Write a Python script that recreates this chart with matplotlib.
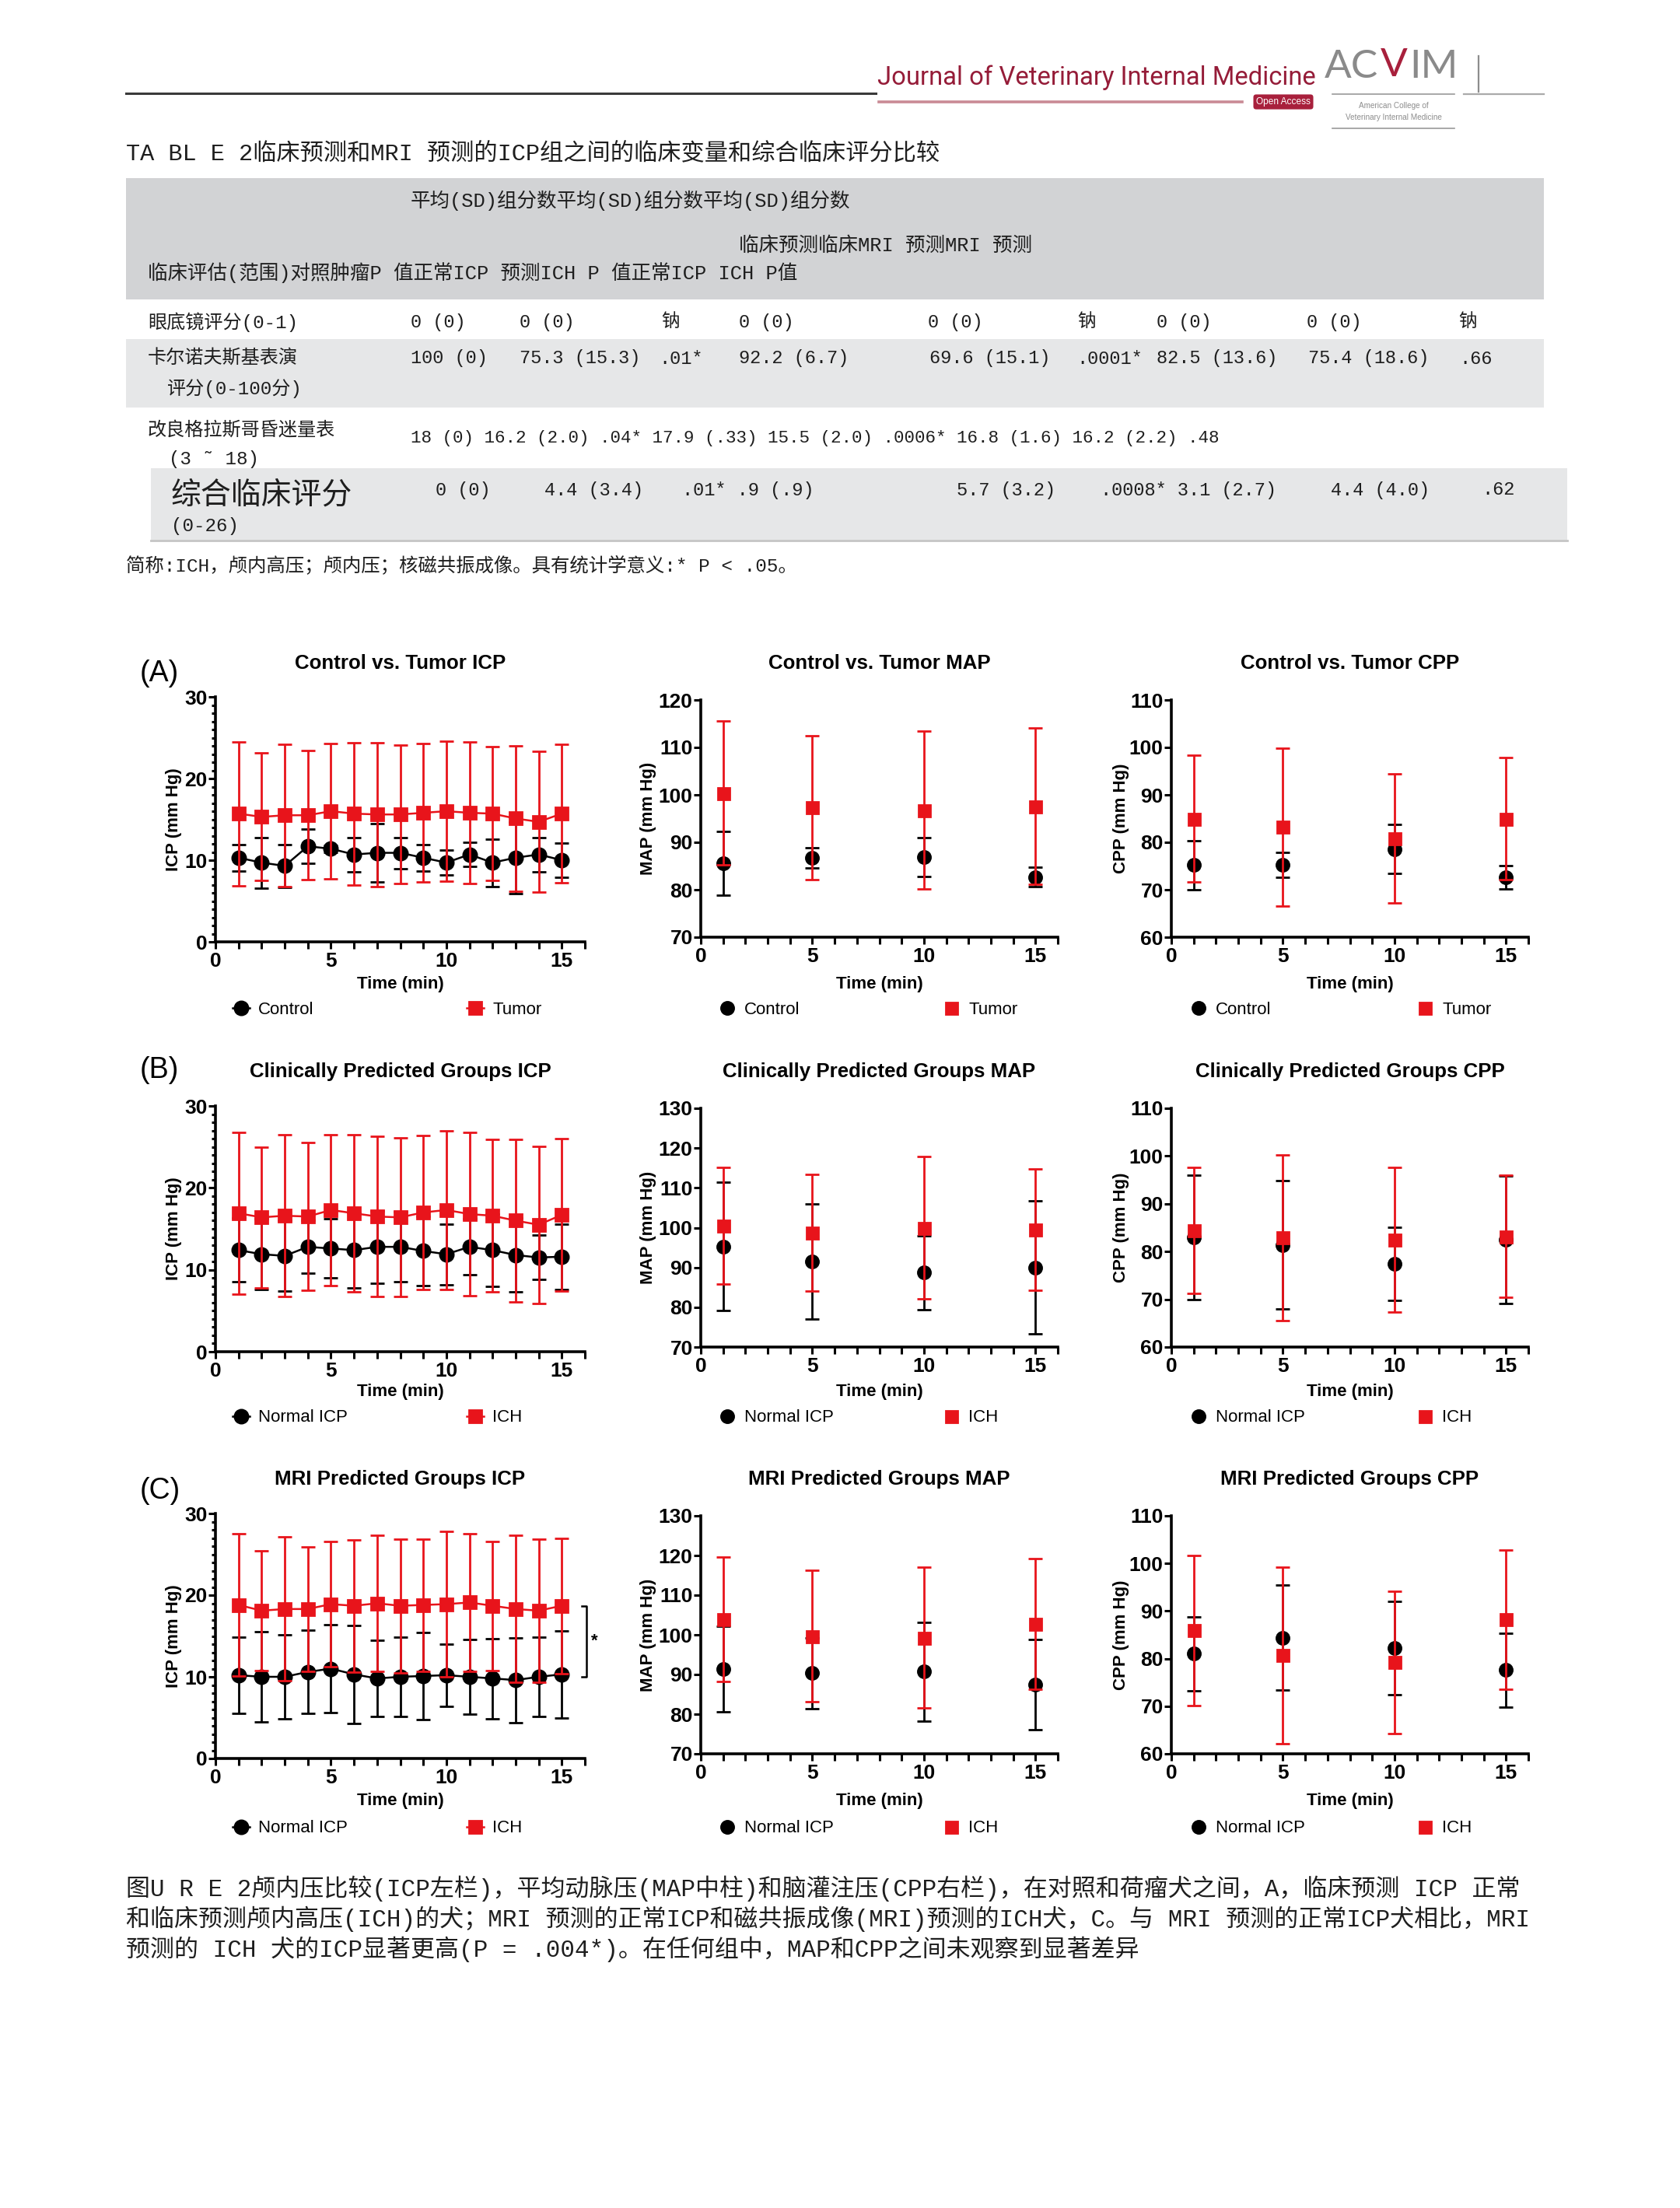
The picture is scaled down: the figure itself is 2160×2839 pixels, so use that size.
import matplotlib
matplotlib.use("Agg")
import matplotlib.pyplot as plt
from matplotlib.patches import Rectangle
from matplotlib.ticker import MultipleLocator

plt.rcParams['font.family'] = ['Liberation Sans', 'Noto Sans CJK SC']

# ---- data -------------------------------------------------------------
t_icp = list(range(1, 16))
t_bp = [1, 5, 10, 15]

# (A) control vs tumor
a_icp_ctrl = [10.3, 9.7, 9.3, 11.7, 11.4, 10.7, 10.9, 10.9, 10.3, 9.7, 10.7, 9.7, 10.3, 10.7, 10.0]
a_icp_ctrl_sd = [1.6, 3.1, 2.6, 2.1, 0.4, 2.1, 3.6, 1.9, 1.6, 1.5, 1.5, 2.9, 4.4, 2.1, 2.1]
a_icp_tum = [15.7, 15.3, 15.5, 15.5, 16.0, 15.7, 15.6, 15.6, 15.8, 16.0, 15.8, 15.7, 15.1, 14.7, 15.7]
a_icp_tum_sd = [8.8, 7.8, 8.7, 7.9, 8.3, 8.7, 8.8, 8.5, 8.5, 8.6, 8.7, 8.2, 8.9, 8.6, 8.5]
a_map_ctrl = [85.6, 86.7, 86.9, 82.7]
a_map_ctrl_sd = [6.7, 2.1, 4.1, 2.1]
a_map_tum = [100.4, 97.3, 96.8, 97.6]
a_map_tum_sd = [15.1, 15.1, 16.7, 16.5]
a_cpp_ctrl = [75.2, 75.2, 78.6, 72.6]
a_cpp_ctrl_sd = [5.2, 2.6, 5.2, 2.5]
a_cpp_tum = [85.0, 83.2, 80.8, 85.0]
a_cpp_tum_sd = [13.3, 16.7, 13.6, 12.8]

# (B) clinically predicted groups
b_icp_norm = [12.4, 11.9, 11.7, 12.8, 12.6, 12.4, 12.8, 12.8, 12.3, 11.9, 12.8, 12.4, 11.8, 11.5, 11.6]
b_icp_norm_sd = [3.9, 4.3, 4.3, 3.2, 3.6, 4.6, 4.4, 4.3, 4.2, 3.7, 3.4, 4.4, 4.5, 2.7, 4.0]
b_icp_ich = [16.9, 16.4, 16.6, 16.5, 17.3, 16.9, 16.5, 16.4, 17.0, 17.3, 16.8, 16.6, 16.0, 15.5, 16.7]
b_icp_ich_sd = [9.9, 8.6, 9.9, 9.0, 9.2, 9.6, 9.8, 9.7, 9.4, 9.7, 10.0, 9.3, 9.9, 9.6, 9.3]
b_map_norm = [95.3, 91.5, 88.7, 90.0]
b_map_norm_sd = [16.1, 14.4, 9.3, 16.7]
b_map_ich = [100.5, 98.7, 100.0, 99.5]
b_map_ich_sd = [14.6, 14.6, 17.9, 15.2]
b_cpp_norm = [83.0, 81.4, 77.4, 82.5]
b_cpp_norm_sd = [13.0, 13.4, 7.6, 13.4]
b_cpp_ich = [84.4, 82.9, 82.5, 83.2]
b_cpp_ich_sd = [13.2, 17.4, 15.1, 12.8]

# (C) MRI predicted groups
c_icp_norm = [10.2, 10.0, 10.0, 10.6, 11.0, 10.3, 9.8, 10.0, 10.1, 10.2, 10.0, 9.8, 9.6, 10.0, 10.3]
c_icp_norm_sd = [4.7, 5.5, 5.1, 5.1, 5.4, 6.0, 4.7, 4.9, 5.3, 3.8, 4.6, 4.9, 5.2, 4.9, 5.3]
c_icp_ich = [18.8, 18.1, 18.3, 18.3, 18.9, 18.7, 19.0, 18.7, 18.8, 18.9, 19.1, 18.7, 18.3, 18.1, 18.7]
c_icp_ich_sd = [8.7, 7.3, 8.8, 7.6, 7.7, 8.1, 8.3, 8.2, 8.1, 8.9, 8.4, 7.9, 9.0, 8.8, 8.3]
c_map_norm = [91.3, 90.3, 90.7, 87.5]
c_map_norm_sd = [10.8, 9.0, 12.4, 11.4]
c_map_ich = [104.0, 99.7, 99.3, 102.7]
c_map_ich_sd = [15.7, 16.6, 17.8, 16.5]
c_cpp_norm = [81.0, 84.4, 82.2, 77.6]
c_cpp_norm_sd = [7.8, 11.0, 9.8, 7.8]
c_cpp_ich = [85.9, 80.7, 79.2, 88.2]
c_cpp_ich_sd = [15.8, 18.5, 15.0, 14.6]
c_sig_bracket = [18.7, 10.0]

# table text
table_title = "TA BL E 2临床预测和MRI 预测的ICP组之间的临床变量和综合临床评分比较"
head_lines = ["平均(SD)组分数平均(SD)组分数平均(SD)组分数",
              "临床预测临床MRI 预测MRI 预测",
              "临床评估(范围)对照肿瘤P 值正常ICP 预测ICH P 值正常ICP ICH P值"]
row1_label = "眼底镜评分(0-1)"
row1_vals = ["0 (0)", "0 (0)", "钠", "0 (0)", "0 (0)", "钠", "0 (0)", "0 (0)", "钠"]
row2_label = ["卡尔诺夫斯基表演", "评分(0-100分)"]
row2_vals = ["100 (0)", "75.3 (15.3)", ".01*", "92.2 (6.7)", "69.6 (15.1)", ".0001*",
             "82.5 (13.6)", "75.4 (18.6)", ".66"]
row3_label = ["改良格拉斯哥昏迷量表", "(3 ˜ 18)"]
row3_vals = "18 (0) 16.2 (2.0) .04* 17.9 (.33) 15.5 (2.0) .0006* 16.8 (1.6) 16.2 (2.2) .48"
row4_label = ["综合临床评分", "(0-26)"]
row4_vals = ["0 (0)", "4.4 (3.4)", ".01* .9 (.9)", "5.7 (3.2)", ".0008* 3.1 (2.7)", "4.4 (4.0)", ".62"]
footnote = "简称:ICH，颅内高压；颅内压；核磁共振成像。具有统计学意义:* P < .05。"
caption = ["图U R E 2颅内压比较(ICP左栏)，平均动脉压(MAP中柱)和脑灌注压(CPP右栏)，在对照和荷瘤犬之间，A，临床预测 ICP 正常",
           "和临床预测颅内高压(ICH)的犬；MRI 预测的正常ICP和磁共振成像(MRI)预测的ICH犬，C。与 MRI 预测的正常ICP犬相比，MRI",
           "预测的 ICH 犬的ICP显著更高(P = .004*)。在任何组中，MAP和CPP之间未观察到显著差异"]

# ---- page -------------------------------------------------------------
W, H = 2160, 2839
fig = plt.figure(figsize=(W / 200, H / 200), dpi=200)
bg = fig.add_axes([0, 0, 1, 1], zorder=0)
bg.set_xlim(0, W)
bg.set_ylim(H, 0)
bg.axis('off')

CJK = ['Liberation Mono', 'Noto Sans CJK SC']
TXT = '#1e1e1e'
RED = '#e8141b'

# journal header
bg.plot([162, 1126], [120, 120], color='#3a3a3a', lw=1.1)
bg.text(1128, 100, 'Journal of Veterinary Internal Medicine', color='#951c38', fontsize=11.8,
        family='Roboto', ha='left', va='center')
bg.plot([1130, 1597], [131, 131], color='#c98b95', lw=1.3)
bg.text(1650, 131, 'Open Access', color='white', fontsize=4.3, ha='center', va='center',
        bbox=dict(boxstyle='round,pad=0.3', fc='#a8203c', ec='none'))
bg.text(1703, 86, 'AC', color='#8a8a8a', fontsize=18.5, family='Lato', ha='left', va='center')
bg.text(1792, 84, 'V', color='#a8203c', fontsize=18.5, family='Lato', ha='center', va='center')
bg.text(1812, 86, 'IM', color='#8a8a8a', fontsize=18.5, family='Lato', ha='left', va='center')
bg.plot([1713, 1870], [121, 121], color='#9a9a9a', lw=0.6)
bg.text(1792, 136, 'American College of', color='#8d8d8d', fontsize=3.6, ha='center', va='center')
bg.text(1792, 151, 'Veterinary Internal Medicine', color='#8d8d8d', fontsize=3.6, ha='center', va='center')
bg.plot([1713, 1870], [165, 165], color='#9a9a9a', lw=0.6)
bg.plot([1901, 1901], [72, 118], color='#8d8d8d', lw=0.8)
bg.plot([1882, 1985], [121, 121], color='#aaaaaa', lw=0.8)

# table
bg.text(162, 198, table_title, family=CJK, fontsize=10.9, color=TXT, ha='left', va='center')
bg.add_patch(Rectangle((162, 229), 1823, 156, fc='#d2d3d5', ec='none'))
bg.text(528, 258, head_lines[0], family=CJK, fontsize=9.2, color=TXT, va='center')
bg.text(950, 316, head_lines[1], family=CJK, fontsize=9.2, color=TXT, va='center')
bg.text(190, 351, head_lines[2], family=CJK, fontsize=9.2, color=TXT, va='center')

col_x = [528, 668, 850, 950, 1193, 1385, 1487, 1680, 1875]
bg.text(190, 414, row1_label, family=CJK, fontsize=8.7, color=TXT, va='center')
for x, v in zip(col_x, row1_vals):
    bg.text(x, 414, v, family=CJK, fontsize=8.5, color=TXT, va='center')

bg.add_patch(Rectangle((162, 436), 1823, 88, fc='#e6e7e8', ec='none'))
bg.text(190, 461, row2_label[0], family=CJK, fontsize=8.7, color=TXT, va='center')
bg.text(215, 500, row2_label[1], family=CJK, fontsize=8.7, color=TXT, va='center')
col2_x = [528, 668, 847, 950, 1195, 1384, 1487, 1682, 1876]
for x, v in zip(col2_x, row2_vals):
    bg.text(x, 461, v, family=CJK, fontsize=8.5, color=TXT, va='center')

bg.text(190, 553, row3_label[0], family=CJK, fontsize=8.7, color=TXT, va='center')
bg.text(217, 590, row3_label[1], family=CJK, fontsize=8.7, color=TXT, va='center')
bg.text(528, 564, row3_vals, family=CJK, fontsize=8.1, color=TXT, va='center')

bg.add_patch(Rectangle((194, 602), 1821, 92, fc='#e6e7e8', ec='none'))
bg.plot([194, 2015], [695, 695], color='#c4c4c4', lw=1.0)
bg.text(220, 637, row4_label[0], family=CJK, fontsize=14, color=TXT, va='center')
bg.text(220, 676, row4_label[1], family=CJK, fontsize=8.7, color=TXT, va='center')
col4_x = [560, 700, 877, 1230, 1415, 1711, 1905]
for x, v in zip(col4_x, row4_vals):
    bg.text(x, 630, v, family=CJK, fontsize=8.5, color=TXT, va='center')

bg.text(162, 728, footnote, family=CJK, fontsize=8.8, color=TXT, va='center')

for y, line in zip([2428, 2467, 2506], caption):
    bg.text(162, y, line, family=CJK, fontsize=11.15, color=TXT, va='center')

# ---- figure panels ----------------------------------------------------
panels = [
    ('A', 0, 'Control vs. Tumor ICP', 'ICP (mm Hg)', (0, 30), t_icp, a_icp_ctrl, a_icp_ctrl_sd, a_icp_tum, a_icp_tum_sd, 'Control', 'Tumor'),
    ('A', 1, 'Control vs. Tumor MAP', 'MAP (mm Hg)', (70, 120), t_bp, a_map_ctrl, a_map_ctrl_sd, a_map_tum, a_map_tum_sd, 'Control', 'Tumor'),
    ('A', 2, 'Control vs. Tumor CPP', 'CPP (mm Hg)', (60, 110), t_bp, a_cpp_ctrl, a_cpp_ctrl_sd, a_cpp_tum, a_cpp_tum_sd, 'Control', 'Tumor'),
    ('B', 0, 'Clinically Predicted Groups ICP', 'ICP (mm Hg)', (0, 30), t_icp, b_icp_norm, b_icp_norm_sd, b_icp_ich, b_icp_ich_sd, 'Normal ICP', 'ICH'),
    ('B', 1, 'Clinically Predicted Groups MAP', 'MAP (mm Hg)', (70, 130), t_bp, b_map_norm, b_map_norm_sd, b_map_ich, b_map_ich_sd, 'Normal ICP', 'ICH'),
    ('B', 2, 'Clinically Predicted Groups CPP', 'CPP (mm Hg)', (60, 110), t_bp, b_cpp_norm, b_cpp_norm_sd, b_cpp_ich, b_cpp_ich_sd, 'Normal ICP', 'ICH'),
    ('C', 0, 'MRI Predicted Groups ICP', 'ICP (mm Hg)', (0, 30), t_icp, c_icp_norm, c_icp_norm_sd, c_icp_ich, c_icp_ich_sd, 'Normal ICP', 'ICH'),
    ('C', 1, 'MRI Predicted Groups MAP', 'MAP (mm Hg)', (70, 130), t_bp, c_map_norm, c_map_norm_sd, c_map_ich, c_map_ich_sd, 'Normal ICP', 'ICH'),
    ('C', 2, 'MRI Predicted Groups CPP', 'CPP (mm Hg)', (60, 110), t_bp, c_cpp_norm, c_cpp_norm_sd, c_cpp_ich, c_cpp_ich_sd, 'Normal ICP', 'ICH'),
]

col_lr = [(277, 752), (901, 1360), (1506, 1965)]
ylab_x = [224, 833, 1442]
leg_x = [(310, 611), (935, 1223), (1541, 1832)]
# per row: icp axes (top, bottom), bp axes (top, bottom), title y, letter y, xlabel y, legend y
row_geo = {
    'A': dict(icp=(896, 1211), bp=(900, 1205), title=853, letter=866, xlab=1266, leg=1298),
    'B': dict(icp=(1422, 1738), bp=(1425, 1732), title=1378, letter=1376, xlab=1790, leg=1823),
    'C': dict(icp=(1946, 2261), bp=(1949, 2255), title=1902, letter=1917, xlab=2315, leg=2351),
}

for row, col, title, ylab, ylim, x, m0, s0, m1, s1, lab0, lab1 in panels:
    g = row_geo[row]
    icp = ylim[0] == 0
    top, bot = g['icp'] if icp else g['bp']
    left, right = col_lr[col]
    ax = fig.add_axes([left / W, 1 - bot / H, (right - left) / W, (bot - top) / H], zorder=2)
    ax.patch.set_alpha(0)

    ls = '-' if icp else 'none'
    ax.errorbar(x, m0, yerr=s0, fmt='none', ecolor='black', elinewidth=1.0,
                capsize=3.3, capthick=1.0, clip_on=False)
    h0, = ax.plot(x, m0, ls=ls, lw=0.9, color='black', marker='o',
                  ms=6.2 if icp else 5.8, clip_on=False)
    ax.errorbar(x, m1, yerr=s1, fmt='none', ecolor=RED, elinewidth=1.0,
                capsize=3.3, capthick=1.0, clip_on=False)
    h1, = ax.plot(x, m1, ls=ls, lw=0.9, color=RED, marker='s',
                  ms=5.7 if icp else 5.4, clip_on=False)

    ax.set_xlim(0, 16)
    ax.set_ylim(*ylim)
    for s in ['top', 'right']:
        ax.spines[s].set_visible(False)
    for s in ['left', 'bottom']:
        ax.spines[s].set_linewidth(1.3)
    ax.set_xticks([0, 5, 10, 15], ['0', '5', '10', '15'], fontsize=9.5, fontweight='bold')
    ax.xaxis.set_minor_locator(MultipleLocator(1))
    yt = list(range(ylim[0], ylim[1] + 1, 10))
    ax.set_yticks(yt, [str(v) for v in yt], fontsize=9.5, fontweight='bold')
    if icp:
        ax.yaxis.set_minor_locator(MultipleLocator(1))
    ax.tick_params(which='both', direction='out', width=1.1)
    ax.tick_params(axis='x', which='both', length=3.2, pad=1.5)
    ax.tick_params(axis='y', which='major', length=3.2, pad=0.5)
    ax.tick_params(axis='y', which='minor', length=1.8)

    ax.set_xlabel('Time (min)', fontsize=8, fontweight='bold')
    ax.xaxis.set_label_coords((left + right) / 2, g['xlab'], transform=bg.transData)
    ax.xaxis.label.set_va('center')
    ax.set_ylabel(ylab, fontsize=8, fontweight='bold')
    ax.yaxis.set_label_coords(ylab_x[col], (top + bot) / 2, transform=bg.transData)
    ax.yaxis.label.set_va('center')

    bg.text((left + right) / 2, g['title'], title, fontsize=9.3, fontweight='bold',
            ha='center', va='center')
    if col == 0:
        bg.text(180, g['letter'], '(%s)' % row, fontsize=13.5, ha='left', va='center')

    em = 8 / 72 * 200
    for k, (h, lab) in enumerate([(h0, lab0), (h1, lab1)]):
        leg = ax.legend([h], [lab], loc='center left',
                        bbox_to_anchor=(leg_x[col][k] - 0.5 * em, g['leg']),
                        bbox_transform=bg.transData, frameon=False, fontsize=8,
                        handlelength=1.0, handletextpad=0.5, borderpad=0, borderaxespad=0)
        if k == 0:
            ax.add_artist(leg)

    if row == 'C' and col == 0:
        ax.plot([15.85, 16.07, 16.07, 15.85], [c_sig_bracket[0], c_sig_bracket[0],
                c_sig_bracket[1], c_sig_bracket[1]], color='black', lw=0.9, clip_on=False)
        ax.text(16.4, sum(c_sig_bracket) / 2, '*', fontsize=8, fontweight='bold',
                ha='center', va='center')

fig.savefig('out.png', dpi=200)
